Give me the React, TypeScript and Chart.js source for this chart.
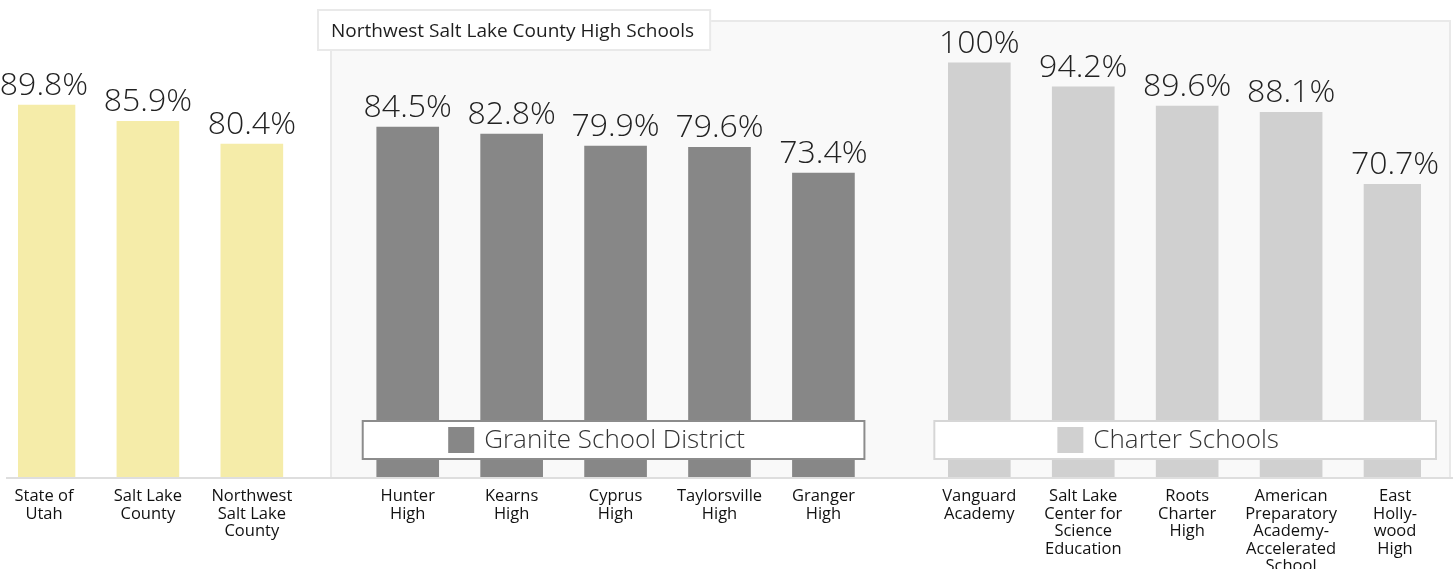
import React, { useEffect, useRef } from "react";
import { Chart, registerables } from "chart.js";

Chart.register(...registerables);

// ---------- data ----------
const regionLabels: string[][] = [
  ["State of", "Utah"],
  ["Salt Lake", "County"],
  ["Northwest", "Salt Lake", "County"],
];
const regionValues: number[] = [89.8, 85.9, 80.4];

const graniteLabels: string[][] = [
  ["Hunter", "High"],
  ["Kearns", "High"],
  ["Cyprus", "High"],
  ["Taylorsville", "High"],
  ["Granger", "High"],
];
const graniteValues: number[] = [84.5, 82.8, 79.9, 79.6, 73.4];

const charterLabels: string[][] = [
  ["Vanguard", "Academy"],
  ["Salt Lake", "Center for", "Science", "Education"],
  ["Roots", "Charter", "High"],
  ["American", "Preparatory", "Academy-", "Accelerated", "School"],
  ["East", "Holly-", "wood", "High"],
];
const charterValues: number[] = [100, 94.2, 89.6, 88.1, 70.7];

const panelTitle = "Northwest Salt Lake County High Schools";
const graniteName = "Granite School District";
const charterName = "Charter Schools";

// ---------- styles ----------
const regionColor = "#f5eca9";
const graniteColor = "#878787";
const charterColor = "#d0d0d0";
const FONT = "'Open Sans', 'Noto Sans', sans-serif";
const BAR_W = 62;

// ---------- slot layout (half-slot fillers between bars, wider gap between groups) ----------
const groups = [
  { labels: regionLabels, values: regionValues, color: regionColor },
  { labels: graniteLabels, values: graniteValues, color: graniteColor },
  { labels: charterLabels, values: charterValues, color: charterColor },
];

const slotLabels: (string | string[])[] = [];
const slotValues: (number | null)[] = [];
const slotColors: string[] = [];
const groupRanges: { first: number; last: number }[] = [];

const pushFiller = () => {
  slotLabels.push("");
  slotValues.push(null);
  slotColors.push("rgba(0,0,0,0)");
};

groups.forEach((g, gi) => {
  if (gi > 0) {
    pushFiller();
    pushFiller();
  }
  const first = slotLabels.length;
  g.values.forEach((v, i) => {
    if (i > 0) pushFiller();
    slotLabels.push(g.labels[i]);
    slotValues.push(v);
    slotColors.push(g.color);
  });
  groupRanges.push({ first, last: slotLabels.length - 1 });
});

const panelLeftOf = (bars: any[]) =>
  Math.round((bars[groupRanges[0].last].x + bars[groupRanges[1].first].x) / 2) + 1;

const decorPlugin = {
  id: "decor",
  beforeDatasetsDraw(chart: any) {
    const ctx = chart.ctx as CanvasRenderingContext2D;
    const bars = chart.getDatasetMeta(0).data;
    const base = chart.scales.y.getPixelForValue(0);
    const panelLeft = panelLeftOf(bars);
    const panelTop = 21;
    const panelRight = chart.width - 3;
    ctx.save();
    ctx.fillStyle = "#f9f9f9";
    ctx.fillRect(panelLeft, panelTop, panelRight - panelLeft, base - panelTop);
    ctx.strokeStyle = "#e9e9e9";
    ctx.lineWidth = 2;
    ctx.beginPath();
    ctx.moveTo(panelLeft, base);
    ctx.lineTo(panelLeft, panelTop);
    ctx.lineTo(panelRight, panelTop);
    ctx.lineTo(panelRight, base);
    ctx.stroke();
    // baseline
    ctx.strokeStyle = "#dedede";
    ctx.lineWidth = 2;
    ctx.beginPath();
    ctx.moveTo(6, base + 1);
    ctx.lineTo(chart.width, base + 1);
    ctx.stroke();
    ctx.restore();
  },
  afterDatasetsDraw(chart: any) {
    const ctx = chart.ctx as CanvasRenderingContext2D;
    const bars = chart.getDatasetMeta(0).data;
    const base = chart.scales.y.getPixelForValue(0);
    ctx.save();

    // legend boxes over the gray groups
    const legendDefs = [
      { range: groupRanges[1], name: graniteName, color: graniteColor, border: "#8c8c8c" },
      { range: groupRanges[2], name: charterName, color: charterColor, border: "#d6d6d6" },
    ];
    legendDefs.forEach((d) => {
      const left = bars[d.range.first].x - BAR_W / 2 - 15;
      const right = bars[d.range.last].x + BAR_W / 2 + 11;
      const top = base - 57;
      const h = 40;
      ctx.fillStyle = "#ffffff";
      ctx.fillRect(left, top, right - left, h);
      ctx.strokeStyle = d.border;
      ctx.lineWidth = 2;
      ctx.strokeRect(left + 1, top + 1, right - left - 2, h - 2);
      ctx.font = `300 26px ${FONT}`;
      const tw = ctx.measureText(d.name).width;
      const sw = 26;
      const gap = 10;
      const total = sw + gap + tw;
      const startX = (left + right) / 2 - total / 2 - 17;
      ctx.fillStyle = d.color;
      ctx.fillRect(startX, top + 7, sw, sw);
      ctx.fillStyle = "#333333";
      ctx.textAlign = "left";
      ctx.textBaseline = "middle";
      ctx.fillText(d.name, startX + sw + gap, top + h / 2 + 1);
    });

    // value labels
    ctx.font = `300 32px ${FONT}`;
    ctx.fillStyle = "#222222";
    ctx.textAlign = "center";
    ctx.textBaseline = "alphabetic";
    slotValues.forEach((v, i) => {
      if (v === null) return;
      const b = bars[i];
      ctx.fillText(`${v}%`, b.x, b.y - 10);
    });

    // panel title box
    const panelLeft = panelLeftOf(bars);
    ctx.font = `400 19px ${FONT}`;
    const titleW = ctx.measureText(panelTitle).width;
    const bx = panelLeft - 14;
    const by = 9;
    const bw = titleW + 31;
    const bh = 42;
    ctx.fillStyle = "#ffffff";
    ctx.fillRect(bx, by, bw, bh);
    ctx.strokeStyle = "#e9e9e9";
    ctx.lineWidth = 2;
    ctx.strokeRect(bx + 1, by + 1, bw - 2, bh - 2);
    ctx.fillStyle = "#1e1e1e";
    ctx.textAlign = "left";
    ctx.textBaseline = "alphabetic";
    ctx.fillText(panelTitle, bx + 14, 37);

    ctx.restore();
  },
};

export default function App() {
  const canvasRef = useRef<HTMLCanvasElement | null>(null);

  useEffect(() => {
    if (!canvasRef.current) return;
    const chart = new Chart(canvasRef.current, {
      type: "bar",
      data: {
        labels: slotLabels,
        datasets: [
          {
            data: slotValues,
            backgroundColor: slotColors,
            barThickness: BAR_W,
            skipNull: true,
          } as any,
        ],
      },
      options: {
        animation: false,
        responsive: false,
        devicePixelRatio: 1,
        layout: { padding: { left: 18, right: 32, top: 0, bottom: 0 } },
        plugins: {
          legend: { display: false },
          tooltip: { enabled: false },
        },
        scales: {
          x: {
            grid: { display: false, drawTicks: false },
            border: { display: false },
            ticks: {
              autoSkip: false,
              maxRotation: 0,
              minRotation: 0,
              padding: 11,
              color: "#111111",
              font: { family: FONT, size: 16.5, lineHeight: 1.06 },
            },
            afterFit(scale: any) {
              scale.height = 92;
            },
          },
          y: { display: false, min: 0, max: 115.2 },
        },
      },
      plugins: [decorPlugin],
    });
    return () => chart.destroy();
  }, []);

  return (
    <div
      style={{
        position: "absolute",
        left: 0,
        top: 0,
        width: 1453,
        height: 569,
        background: "#ffffff",
      }}
    >
      <canvas ref={canvasRef} width={1453} height={569} style={{ display: "block" }} />
    </div>
  );
}
